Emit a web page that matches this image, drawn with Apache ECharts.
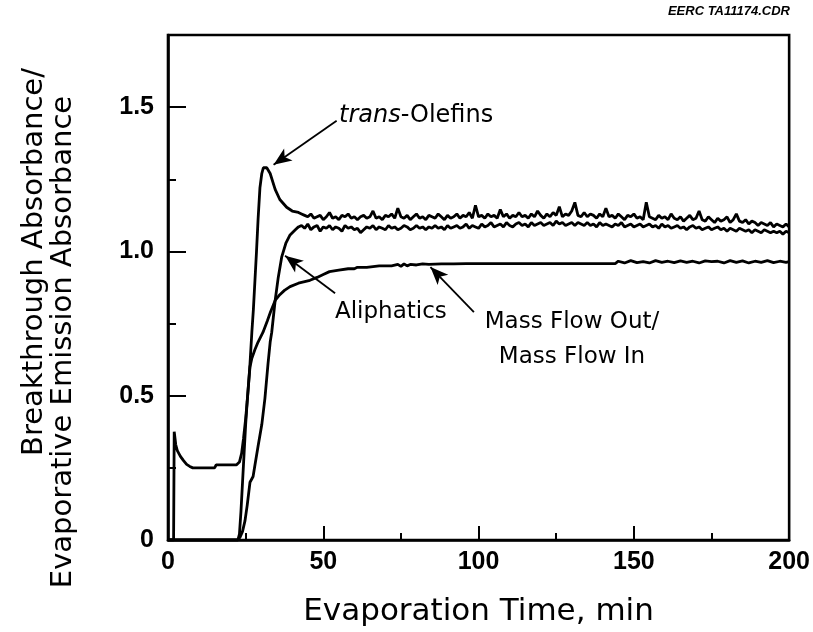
<!DOCTYPE html>
<html>
<head>
<meta charset="utf-8">
<script src="https://cdn.jsdelivr.net/npm/echarts@6/dist/echarts.min.js"></script>
<style>
html,body{margin:0;padding:0;background:#fff;}
#chart{width:813px;height:632px;}
</style>
</head>
<body>
<div id="chart"></div>
<script>
// ---- data (time in min, value = ratio) ----
// early part (explicit time/value pairs)
var olefinsT = [0,1.8,2.0,2.5,3,4,5,6,7,8,10,12,14,15,15.5,18,20,22,23,23.7,24.3,25,25.5,26,26.4,27,27.5,28,28.5,29,29.6,30.2,30.7,31.8,32.9,34.5,36,38.2,40,42];
var olefinsV = [0,0,0.375,0.33,0.31,0.29,0.275,0.262,0.255,0.25,0.25,0.25,0.25,0.25,0.26,0.26,0.26,0.26,0.27,0.3,0.35,0.42,0.48,0.55,0.61,0.72,0.8,0.9,1.0,1.11,1.22,1.27,1.29,1.29,1.27,1.215,1.18,1.153,1.14,1.135];
var aliphT = [0,5,10,15,20,22.5,23.2,24,24.8,25.5,26.4,27.4,28,29,30.2,31.2,32.2,32.9,33.4,34.5,35.5,36.6,38,39.3,41,42];
var aliphV = [0,0,0,0,0,0,0.01,0.03,0.067,0.12,0.2,0.22,0.26,0.325,0.4,0.49,0.61,0.686,0.72,0.83,0.91,0.98,1.03,1.057,1.075,1.085];

// plateau, one reading per minute from 43 to 200 min
var plateauStart = 43;
var olefinsPlateau = [
 1.13,1.125,1.12,1.13,1.115,1.12,1.125,1.11,1.12,1.135,
 1.115,1.12,1.11,1.125,1.12,1.13,1.115,1.12,1.11,1.12,
 1.125,1.115,1.12,1.14,1.115,1.12,1.11,1.125,1.12,1.13,
 1.115,1.15,1.12,1.115,1.125,1.11,1.12,1.13,1.115,1.12,
 1.11,1.125,1.12,1.115,1.13,1.12,1.11,1.125,1.115,1.12,
 1.13,1.115,1.125,1.12,1.135,1.115,1.16,1.12,1.125,1.115,
 1.13,1.12,1.125,1.115,1.145,1.12,1.13,1.115,1.125,1.12,
 1.135,1.12,1.125,1.115,1.13,1.12,1.14,1.125,1.115,1.13,
 1.12,1.135,1.125,1.155,1.12,1.13,1.125,1.14,1.17,1.125,
 1.12,1.135,1.12,1.13,1.125,1.115,1.13,1.12,1.15,1.12,
 1.125,1.115,1.13,1.12,1.11,1.125,1.12,1.13,1.115,1.12,
 1.11,1.17,1.12,1.115,1.11,1.125,1.115,1.12,1.11,1.13,
 1.115,1.11,1.12,1.105,1.115,1.125,1.11,1.115,1.14,1.11,
 1.105,1.12,1.11,1.1,1.115,1.105,1.11,1.12,1.1,1.11,
 1.13,1.105,1.1,1.11,1.095,1.105,1.1,1.09,1.1,1.095,
 1.09,1.1,1.085,1.095,1.09,1.085,1.095,1.085];
var aliphPlateau = [
 1.09,1.08,1.095,1.075,1.085,1.09,1.07,1.085,1.08,1.09,
 1.075,1.085,1.08,1.07,1.09,1.08,1.085,1.075,1.08,1.065,
 1.075,1.085,1.08,1.09,1.075,1.085,1.08,1.075,1.09,1.08,
 1.085,1.075,1.08,1.09,1.085,1.075,1.08,1.09,1.08,1.085,
 1.075,1.085,1.08,1.09,1.08,1.085,1.075,1.09,1.08,1.085,
 1.09,1.08,1.085,1.095,1.08,1.09,1.085,1.08,1.095,1.085,
 1.09,1.1,1.085,1.09,1.095,1.085,1.1,1.09,1.085,1.095,
 1.1,1.09,1.095,1.085,1.1,1.09,1.095,1.1,1.09,1.095,
 1.1,1.09,1.105,1.095,1.1,1.09,1.095,1.1,1.09,1.1,
 1.095,1.09,1.1,1.09,1.095,1.085,1.1,1.09,1.095,1.09,
 1.085,1.095,1.09,1.1,1.085,1.09,1.095,1.085,1.09,1.095,
 1.085,1.09,1.095,1.085,1.09,1.08,1.095,1.085,1.09,1.08,
 1.085,1.09,1.08,1.085,1.075,1.085,1.09,1.08,1.085,1.075,
 1.08,1.085,1.075,1.08,1.085,1.075,1.08,1.07,1.08,1.075,
 1.07,1.08,1.075,1.07,1.075,1.065,1.075,1.07,1.065,1.075,
 1.07,1.065,1.07,1.065,1.07,1.06,1.07,1.065];

var massT = [0,5,10,15,20,22.5,23,23.5,24,24.5,25,25.5,26,26.4,27,28,29,30.6,32,33,34.5,36,37.5,39.3,42,45.7,48,50,52,55,58,60,61,64,68,72,74,75,76,77,78,80,82,84,88,92,96,100,110,120,130,140,144,145,147,149,151,153,155,157,159,161,163,165,167,169,171,173,175,177,179,181,183,185,187,189,191,193,195,197,199,200];
var massV = [0,0,0,0,0,0,0.02,0.1,0.2,0.3,0.4,0.48,0.55,0.6,0.63,0.66,0.686,0.72,0.76,0.79,0.83,0.85,0.865,0.878,0.89,0.9,0.91,0.92,0.93,0.935,0.94,0.94,0.945,0.945,0.95,0.95,0.955,0.948,0.957,0.95,0.955,0.953,0.957,0.955,0.957,0.957,0.958,0.958,0.958,0.958,0.958,0.958,0.958,0.966,0.96,0.968,0.961,0.965,0.96,0.968,0.962,0.966,0.961,0.967,0.962,0.966,0.96,0.967,0.965,0.966,0.96,0.968,0.962,0.967,0.96,0.966,0.962,0.968,0.961,0.966,0.962,0.965];

var xTicks = [0, 50, 100, 150, 200];
var yTicks = [0, 0.5, 1.0, 1.5];

// annotation arrows: [tailT, tailV, headT, headV]
var arrowOlefins = [54.3, 1.453, 34.0, 1.30];
var arrowAliph = [53.8, 0.855, 37.7, 0.985];
var arrowMass = [98.5, 0.79, 84.5, 0.946];

function pairs(t, v){ return t.map(function(x,i){ return [x, v[i]]; }); }
function withPlateau(t, v, plat){
  var d = pairs(t, v);
  plat.forEach(function(y, i){ d.push([plateauStart + i, y]); });
  return d;
}
function arrow(a){
  return [[{coord:[a[0],a[1]], symbol:'none'},{coord:[a[2],a[3]], symbol:'arrow', symbolSize:[11,18]}]];
}
function lineSeries(name, data, arr){
  return {
    name: name, type:'line', data: data, showSymbol:false, symbol:'none',
    lineStyle:{color:'#000', width:2.8}, silent:true, animation:false,
    markLine:{ silent:true, animation:false, symbol:['none','arrow'], label:{show:false},
      lineStyle:{color:'#000', width:1.8, type:'solid'}, emphasis:{disabled:true},
      data: arrow(arr) }
  };
}

var chart = echarts.init(document.getElementById('chart'), null, {renderer:'canvas'});
var tickFont = 'Liberation Sans';
var txtFont = 'DejaVu Sans';
chart.setOption({
  backgroundColor:'#fff',
  animation:false,
  grid:{left:168, right:23, top:35, bottom:79, show:true, borderColor:'#000', borderWidth:2.6, backgroundColor:'transparent'},
  xAxis:{
    type:'value', min:0, max:200, interval:50,
    axisLine:{show:true, lineStyle:{color:'#000', width:2.6}},
    axisTick:{show:true, inside:true, length:14, lineStyle:{color:'#000', width:2}},
    minorTick:{show:true, splitNumber:2, length:7, lineStyle:{color:'#000', width:2}},
    splitLine:{show:false},
    axisLabel:{color:'#000', fontFamily:tickFont, fontWeight:'bold', fontSize:25, margin:10,
      formatter:function(v){ return xTicks.indexOf(v) >= 0 ? String(v) : ''; }},
    name:'Evaporation Time, min', nameLocation:'middle', nameGap:56,
    nameTextStyle:{color:'#000', fontFamily:txtFont, fontSize:31}
  },
  yAxis:{
    type:'value', min:0, max:1.75, interval:0.5,
    axisLine:{show:true, lineStyle:{color:'#000', width:2.6}},
    axisTick:{show:true, inside:true, length:18, lineStyle:{color:'#000', width:2}},
    minorTick:{show:true, splitNumber:2, length:8, lineStyle:{color:'#000', width:2}},
    splitLine:{show:false},
    axisLabel:{color:'#000', fontFamily:tickFont, fontWeight:'bold', fontSize:25, margin:14,
      formatter:function(v){ if (yTicks.indexOf(v) < 0) return ''; return v === 0 ? '0' : v.toFixed(1); }}
  },
  graphic:[
    {type:'text', right:23, top:5, style:{text:'EERC TA11174.CDR', fill:'#000', font:'italic bold 13px "Liberation Sans"'}},
    {type:'text', x:34, y:262, rotation:Math.PI/2, style:{text:'Breakthrough Absorbance/', fill:'#000', font:'29px "DejaVu Sans"', align:'center', verticalAlign:'middle'}},
    {type:'text', x:63, y:342, rotation:Math.PI/2, style:{text:'Evaporative Emission Absorbance', fill:'#000', font:'29px "DejaVu Sans"', align:'center', verticalAlign:'middle'}},
    {type:'text', x:339, y:116, style:{
      text:'{i|trans}{n|-Olefins}', verticalAlign:'middle',
      rich:{ i:{fontStyle:'italic', fontFamily:txtFont, fontSize:24, fill:'#000'}, n:{fontFamily:txtFont, fontSize:24, fill:'#000'} } }},
    {type:'text', x:335, y:312, style:{text:'Aliphatics', fill:'#000', font:'23px "DejaVu Sans"', verticalAlign:'middle'}},
    {type:'text', x:572, y:340, style:{text:'Mass Flow Out/\nMass Flow In', fill:'#000', font:'23px "DejaVu Sans"', align:'center', verticalAlign:'middle', lineHeight:35}}
  ],
  series:[
    lineSeries('trans-Olefins', withPlateau(olefinsT, olefinsV, olefinsPlateau), arrowOlefins),
    lineSeries('Aliphatics', withPlateau(aliphT, aliphV, aliphPlateau), arrowAliph),
    lineSeries('Mass Flow Out/Mass Flow In', pairs(massT, massV), arrowMass)
  ]
});
</script>
</body>
</html>
